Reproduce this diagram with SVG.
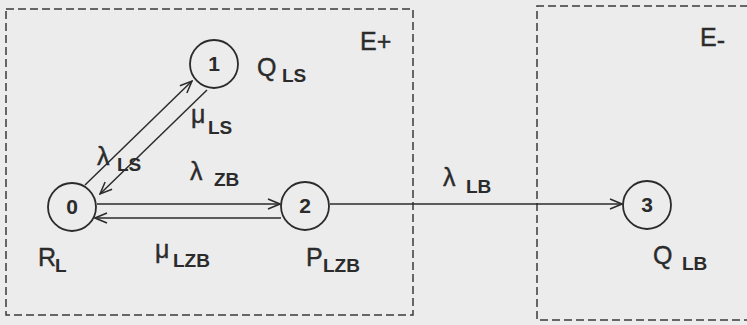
<svg xmlns="http://www.w3.org/2000/svg" width="747" height="325" viewBox="0 0 747 325">
<defs>
<marker id="arr" viewBox="0 0 14 12" refX="13" refY="6" markerWidth="14" markerHeight="12" orient="auto" markerUnits="userSpaceOnUse">
<path d="M1,1 L13,6 L1,11" fill="none" stroke="#2b2b2b" stroke-width="1.5"/>
</marker>
</defs>
<style>
.bg{fill:#ececec}
.box{fill:none;stroke:#3a3a3a;stroke-width:1.5;stroke-dasharray:8 4}
.node circle{fill:none;stroke:#2b2b2b;stroke-width:1.8}
.node text.d{font-family:"Liberation Sans",Arial,sans-serif;font-size:21px;font-weight:bold;fill:#2b2b2b;text-anchor:middle}
.edge{stroke:#2b2b2b;stroke-width:1.5;fill:none;marker-end:url(#arr)}
.lbl{font-family:"Liberation Sans",Arial,sans-serif;font-size:25px;fill:#2b2b2b;stroke:#2b2b2b;stroke-width:0.4}
.sub{font-size:19px;font-weight:bold;stroke-width:0}
</style>
<rect class="bg" x="0" y="0" width="747" height="325"/>
<g id="regions">
<rect class="box" x="6" y="9" width="407" height="306"/>
<path class="box" d="M760,6 L537,6 L537,320 L760,320"/>
<text class="lbl" x="360" y="50">E+</text>
<text class="lbl" x="700" y="46">E<tspan dy="3">-</tspan></text>
</g>
<g id="connectors">
<line class="edge" x1="85" y1="185" x2="192" y2="81"/>
<line class="edge" x1="207" y1="90" x2="100" y2="194"/>
<line class="edge" x1="97" y1="204" x2="280" y2="204"/>
<line class="edge" x1="281" y1="218" x2="95" y2="218"/>
<line class="edge" x1="330" y1="204" x2="622" y2="204"/>
<text class="lbl" x="97" y="165">λ<tspan class="sub" x="117" y="171">LS</tspan></text>
<text class="lbl" x="191" y="123">μ<tspan class="sub" x="208" y="134">LS</tspan></text>
<text class="lbl" x="190" y="180">λ<tspan class="sub" x="214" y="186">ZB</tspan></text>
<text class="lbl" x="155" y="258">μ<tspan class="sub" x="173" y="267">LZB</tspan></text>
<text class="lbl" x="443" y="186">λ<tspan class="sub" x="466" y="193">LB</tspan></text>
</g>
<g id="node0" class="node">
<circle cx="72" cy="207" r="24"/>
<text class="d" x="72" y="214">0</text>
<text class="lbl" x="38" y="266">R<tspan class="sub" x="55" y="272">L</tspan></text>
</g>
<g id="node1" class="node">
<circle cx="214" cy="64" r="24"/>
<text class="d" x="214" y="71">1</text>
<text class="lbl" x="257" y="76">Q<tspan class="sub" x="282" y="82">LS</tspan></text>
</g>
<g id="node2" class="node">
<circle cx="305" cy="206" r="24"/>
<text class="d" x="305" y="213">2</text>
<text class="lbl" x="306" y="266">P<tspan class="sub" x="323" y="272">LZB</tspan></text>
</g>
<g id="node3" class="node">
<circle cx="647" cy="205" r="24"/>
<text class="d" x="647" y="212">3</text>
<text class="lbl" x="653" y="264">Q<tspan class="sub" x="682" y="270">LB</tspan></text>
</g>
</svg>
